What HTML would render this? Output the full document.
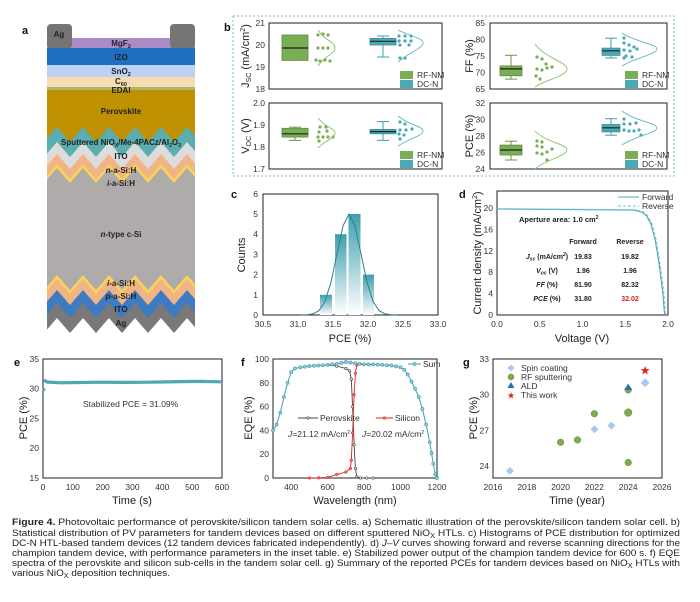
<!DOCTYPE html>
<html><head><meta charset="utf-8"><style>
html,body{margin:0;padding:0;background:#fff;}
svg{display:block;font-family:"Liberation Sans",sans-serif;}
.t{font-size:8.5px;fill:#333;}
.ti{font-size:11px;fill:#222;}
.pl{font-size:11px;font-weight:bold;fill:#111;}
.ly{font-size:8px;font-weight:bold;fill:#222;text-anchor:middle;}
.fr{fill:none;stroke:#333;stroke-width:1.1;}
.cap{font-size:9.6px;fill:#222;}
</style></head><body>
<svg width="700" height="602" viewBox="0 0 700 602" xmlns="http://www.w3.org/2000/svg">
<defs>
<clipPath id="stk"><rect x="47" y="20" width="148" height="320"/></clipPath>
<linearGradient id="bar" x1="0" y1="0" x2="0" y2="1"><stop offset="0" stop-color="#3f9fae"/><stop offset="1" stop-color="#ffffff"/></linearGradient>
<marker id="mt" markerWidth="4" markerHeight="4" refX="2" refY="2" markerUnits="userSpaceOnUse"><circle cx="2" cy="2" r="1.5" fill="#9fd3da" stroke="#3f9fae" stroke-width="0.7"/></marker>
<marker id="mk" markerWidth="4" markerHeight="4" refX="2" refY="2" markerUnits="userSpaceOnUse"><circle cx="2" cy="2" r="1.2" fill="#fff" stroke="#444" stroke-width="0.7"/></marker>
<marker id="mr" markerWidth="4" markerHeight="4" refX="2" refY="2" markerUnits="userSpaceOnUse"><circle cx="2" cy="2" r="1.2" fill="#f88" stroke="#e02020" stroke-width="0.7"/></marker>
</defs>

<!-- Panel a -->
<text x="22" y="34" class="pl">a</text>
<rect x="47" y="24" width="25" height="26" rx="4" fill="#777474"/>
<rect x="170" y="24" width="25" height="26" rx="4" fill="#777474"/>
<rect x="72" y="38" width="98" height="10" fill="#a98bc6"/>
<rect x="47" y="48" width="148" height="17" fill="#1f6fc0"/>
<rect x="47" y="65" width="148" height="12" fill="#bcd2f4"/>
<rect x="47" y="77" width="148" height="10" fill="#f8dcb0"/>
<rect x="47" y="87" width="148" height="3" fill="#a8b870"/>
<rect x="47" y="90" width="148" height="60" fill="#bf9000"/>
<g clip-path="url(#stk)">
<polygon fill="#5aaeb2" points="44,142 57,127 70,142 83,127 96,142 109,127 122,142 135,127 148,142 161,127 174,142 187,127 200,142 200,340 44,340"/>
<polygon fill="#dcdcdc" points="44,157 57,142 70,157 83,142 96,157 109,142 122,157 135,142 148,157 161,142 174,157 187,142 200,157 200,340 44,340"/>
<polygon fill="#f0b486" points="44,169 57,154 70,169 83,154 96,169 109,154 122,169 135,154 148,169 161,154 174,169 187,154 200,169 200,340 44,340"/>
<polygon fill="#f7d35a" points="44,179 57,164 70,179 83,164 96,179 109,164 122,179 135,164 148,179 161,164 174,179 187,164 200,179 200,340 44,340"/>
<polygon fill="#afabaa" points="44,183 57,168 70,183 83,168 96,183 109,168 122,183 135,168 148,183 161,168 174,183 187,168 200,183 200,340 44,340"/>
<polygon fill="#f7d35a" points="44,290 57,275 70,290 83,275 96,290 109,275 122,290 135,275 148,290 161,275 174,290 187,275 200,290 200,340 44,340"/>
<polygon fill="#f0b486" points="44,294 57,279 70,294 83,279 96,294 109,279 122,294 135,279 148,294 161,279 174,294 187,279 200,294 200,340 44,340"/>
<polygon fill="#3d7cc0" points="44,305 57,290 70,305 83,290 96,305 109,290 122,305 135,290 148,305 161,290 174,305 187,290 200,305 200,340 44,340"/>
<polygon fill="#7a7878" points="44,318 57,303 70,318 83,303 96,318 109,303 122,318 135,303 148,318 161,303 174,318 187,303 200,318 200,340 44,340"/>
<polygon fill="#fff" points="44,333 57,318 70,333 83,318 96,333 109,318 122,333 135,318 148,333 161,318 174,333 187,318 200,333 200,340 44,340"/>
</g>
<text x="59" y="37" class="ly">Ag</text>
<text x="121" y="46" class="ly">MgF<tspan font-size="5.5" dy="2">2</tspan></text>
<text x="121" y="60" class="ly">IZO</text>
<text x="121" y="74" class="ly">SnO<tspan font-size="5.5" dy="2">2</tspan></text>
<text x="121" y="84" class="ly">C<tspan font-size="5.5" dy="2">60</tspan></text>
<text x="121" y="93" class="ly">EDAI</text>
<text x="121" y="114" class="ly">Perovskite</text>
<text x="121" y="145" class="ly" font-size="7.6">Sputtered NiO<tspan font-size="5" dy="2">X</tspan><tspan dy="-2">/Me-4PACz/Al</tspan><tspan font-size="5" dy="2">2</tspan><tspan dy="-2">O</tspan><tspan font-size="5" dy="2">3</tspan></text>
<text x="121" y="159" class="ly">ITO</text>
<text x="121" y="173" class="ly"><tspan font-style="italic">n</tspan>-a-Si:H</text>
<text x="121" y="186" class="ly"><tspan font-style="italic">i</tspan>-a-Si:H</text>
<text x="121" y="237" class="ly"><tspan font-style="italic">n</tspan>-type c-Si</text>
<text x="121" y="286" class="ly"><tspan font-style="italic">i</tspan>-a-Si:H</text>
<text x="121" y="299" class="ly"><tspan font-style="italic">p</tspan>-a-Si:H</text>
<text x="121" y="312" class="ly">ITO</text>
<text x="121" y="326" class="ly">Ag</text>

<!-- Panel b -->
<text x="224" y="31" class="pl">b</text>
<rect x="233" y="16" width="441" height="160" fill="none" stroke="#6cc0cc" stroke-width="1" stroke-dasharray="2,2"/>
<!-- Jsc -->
<rect x="269" y="23" width="173" height="66" class="fr"/>
<g class="t" text-anchor="end"><text x="265" y="26">21</text><text x="265" y="48">20</text><text x="265" y="70">19</text><text x="265" y="92">18</text></g>
<text transform="translate(249,56) rotate(-90)" class="ti" text-anchor="middle">J<tspan font-size="7" dy="2">SC</tspan><tspan dy="-2"> (mA/cm</tspan><tspan font-size="7" dy="-4">2</tspan><tspan dy="4">)</tspan></text>
<line x1="295" y1="35" x2="295" y2="61" stroke="#6a9a40"/>
<rect x="282" y="35" width="26" height="25.4" fill="#79ae55" stroke="#5e8c3c" stroke-width="0.8"/>
<line x1="282" y1="48" x2="308" y2="48" stroke="#222" stroke-width="1.2"/>
<g fill="#79ae55"><circle cx="318" cy="35" r="1.6"/><circle cx="323" cy="34" r="1.6"/><circle cx="328" cy="35" r="1.6"/><circle cx="318" cy="48" r="1.6"/><circle cx="323" cy="48" r="1.6"/><circle cx="328" cy="48" r="1.6"/><circle cx="316" cy="60" r="1.6"/><circle cx="320" cy="61" r="1.6"/><circle cx="325" cy="60" r="1.6"/><circle cx="330" cy="61" r="1.6"/></g>
<path d="M318,30 C324,40 335,42 335,48 C335,54 324,56 318,66" fill="none" stroke="#8cc063" stroke-width="0.9"/>
<line x1="383" y1="36" x2="383" y2="57" stroke="#3f9fae"/><line x1="377" y1="57" x2="389" y2="57" stroke="#3f9fae"/><line x1="377" y1="36" x2="389" y2="36" stroke="#3f9fae"/>
<rect x="370" y="38.4" width="26" height="6.6" fill="#4aa9b5" stroke="#3a8f9a" stroke-width="0.8"/>
<line x1="370" y1="41.3" x2="396" y2="41.3" stroke="#222" stroke-width="1.2"/>
<g fill="#4aa9b5"><circle cx="399" cy="36" r="1.6"/><circle cx="405" cy="36" r="1.6"/><circle cx="411" cy="36" r="1.6"/><circle cx="399" cy="41" r="1.6"/><circle cx="405" cy="41" r="1.6"/><circle cx="411" cy="41" r="1.6"/><circle cx="400" cy="45" r="1.6"/><circle cx="409" cy="45" r="1.6"/><circle cx="400" cy="58" r="1.6"/><circle cx="405" cy="58" r="1.6"/></g>
<path d="M398,30 C410,36 423,38 423,43 C423,48 410,52 398,62" fill="none" stroke="#5bb8c4" stroke-width="0.9"/>
<rect x="400" y="71" width="13" height="8" fill="#79ae55"/><rect x="400" y="80" width="13" height="8" fill="#4aa9b5"/>
<text x="417" y="78" class="t" font-size="8">RF-NM</text><text x="417" y="87" class="t" font-size="8">DC-N</text>
<!-- FF -->
<rect x="490" y="23" width="177" height="66" class="fr"/>
<g class="t" text-anchor="end"><text x="485" y="26">85</text><text x="485" y="42.5">80</text><text x="485" y="59">75</text><text x="485" y="75.5">70</text><text x="485" y="92">65</text></g>
<text transform="translate(473,56) rotate(-90)" class="ti" text-anchor="middle">FF (%)</text>
<line x1="511" y1="55.3" x2="511" y2="79.1" stroke="#6a9a40"/><line x1="505" y1="55.3" x2="517" y2="55.3" stroke="#6a9a40"/><line x1="505" y1="79.1" x2="517" y2="79.1" stroke="#6a9a40"/>
<rect x="500" y="65.9" width="22" height="9.9" fill="#79ae55" stroke="#5e8c3c" stroke-width="0.8"/>
<line x1="500" y1="68.9" x2="522" y2="68.9" stroke="#222" stroke-width="1.2"/>
<g fill="#79ae55"><circle cx="537" cy="57" r="1.6"/><circle cx="542" cy="59" r="1.6"/><circle cx="537" cy="69" r="1.6"/><circle cx="542" cy="70" r="1.6"/><circle cx="547" cy="68" r="1.6"/><circle cx="552" cy="67" r="1.6"/><circle cx="536" cy="76" r="1.6"/><circle cx="540" cy="79" r="1.6"/><circle cx="546" cy="64" r="1.6"/></g>
<path d="M535,44 C545,58 567,62 567,69 C567,76 545,80 535,87" fill="none" stroke="#8cc063" stroke-width="0.9"/>
<line x1="611" y1="38.2" x2="611" y2="58" stroke="#3f9fae"/><line x1="605" y1="38.2" x2="617" y2="38.2" stroke="#3f9fae"/><line x1="605" y1="58" x2="617" y2="58" stroke="#3f9fae"/>
<rect x="602" y="48.1" width="18" height="7.3" fill="#4aa9b5" stroke="#3a8f9a" stroke-width="0.8"/>
<line x1="602" y1="50.8" x2="620" y2="50.8" stroke="#222" stroke-width="1.2"/>
<g fill="#4aa9b5"><circle cx="624" cy="38" r="1.6"/><circle cx="624" cy="43" r="1.6"/><circle cx="629" cy="45" r="1.6"/><circle cx="634" cy="47" r="1.6"/><circle cx="624" cy="50" r="1.6"/><circle cx="630" cy="51" r="1.6"/><circle cx="637" cy="49" r="1.6"/><circle cx="626" cy="56" r="1.6"/><circle cx="632" cy="57" r="1.6"/><circle cx="624" cy="58" r="1.6"/></g>
<path d="M622,33 C635,42 657,44 657,49 C657,54 635,58 622,66" fill="none" stroke="#5bb8c4" stroke-width="0.9"/>
<rect x="625" y="71" width="13" height="8" fill="#79ae55"/><rect x="625" y="80" width="13" height="8" fill="#4aa9b5"/>
<text x="642" y="78" class="t" font-size="8">RF-NM</text><text x="642" y="87" class="t" font-size="8">DC-N</text>
<!-- Voc -->
<rect x="269" y="103" width="173" height="66" class="fr"/>
<g class="t" text-anchor="end"><text x="265" y="106">2.0</text><text x="265" y="128">1.9</text><text x="265" y="150">1.8</text><text x="265" y="172">1.7</text></g>
<text transform="translate(249,136) rotate(-90)" class="ti" text-anchor="middle">V<tspan font-size="7" dy="2">OC</tspan><tspan dy="-2"> (V)</tspan></text>
<line x1="295" y1="127.2" x2="295" y2="140.4" stroke="#6a9a40"/><line x1="289" y1="140.4" x2="301" y2="140.4" stroke="#6a9a40"/><line x1="289" y1="127.2" x2="301" y2="127.2" stroke="#6a9a40"/>
<rect x="282" y="128.3" width="26" height="8.8" fill="#79ae55" stroke="#5e8c3c" stroke-width="0.8"/>
<line x1="282" y1="133.8" x2="308" y2="133.8" stroke="#222" stroke-width="1.2"/>
<g fill="#79ae55"><circle cx="320" cy="127" r="1.6"/><circle cx="326" cy="127" r="1.6"/><circle cx="319" cy="132" r="1.6"/><circle cx="327" cy="131" r="1.6"/><circle cx="318" cy="137" r="1.6"/><circle cx="323" cy="137" r="1.6"/><circle cx="328" cy="137" r="1.6"/><circle cx="333" cy="137" r="1.6"/><circle cx="319" cy="141" r="1.6"/></g>
<path d="M318,118 C326,128 335,128 335,133 C335,138 326,140 318,148" fill="none" stroke="#8cc063" stroke-width="0.9"/>
<line x1="383" y1="121.6" x2="383" y2="140.4" stroke="#3f9fae"/><line x1="377" y1="121.6" x2="389" y2="121.6" stroke="#3f9fae"/><line x1="377" y1="140.4" x2="389" y2="140.4" stroke="#3f9fae"/>
<rect x="370" y="129.4" width="26" height="4.4" fill="#4aa9b5" stroke="#3a8f9a" stroke-width="0.8"/>
<line x1="370" y1="131.6" x2="396" y2="131.6" stroke="#222" stroke-width="1.2"/>
<g fill="#4aa9b5"><circle cx="400" cy="122" r="1.6"/><circle cx="405" cy="124" r="1.6"/><circle cx="400" cy="130" r="1.6"/><circle cx="406" cy="130" r="1.6"/><circle cx="412" cy="129" r="1.6"/><circle cx="399" cy="134" r="1.6"/><circle cx="404" cy="135" r="1.6"/><circle cx="400" cy="139" r="1.6"/></g>
<path d="M398,116 C410,126 423,126 423,131 C423,136 410,138 398,146" fill="none" stroke="#5bb8c4" stroke-width="0.9"/>
<rect x="400" y="151" width="13" height="8" fill="#79ae55"/><rect x="400" y="160" width="13" height="8" fill="#4aa9b5"/>
<text x="417" y="158" class="t" font-size="8">RF-NM</text><text x="417" y="167" class="t" font-size="8">DC-N</text>
<!-- PCE b -->
<rect x="490" y="103" width="177" height="66" class="fr"/>
<g class="t" text-anchor="end"><text x="485" y="106">32</text><text x="485" y="122.5">30</text><text x="485" y="139">28</text><text x="485" y="155.5">26</text><text x="485" y="172">24</text></g>
<text transform="translate(473,136) rotate(-90)" class="ti" text-anchor="middle">PCE (%)</text>
<line x1="511" y1="141.2" x2="511" y2="160" stroke="#6a9a40"/><line x1="505" y1="141.2" x2="517" y2="141.2" stroke="#6a9a40"/><line x1="505" y1="160" x2="517" y2="160" stroke="#6a9a40"/>
<rect x="500" y="145.1" width="22" height="9.9" fill="#79ae55" stroke="#5e8c3c" stroke-width="0.8"/>
<line x1="500" y1="150" x2="522" y2="150" stroke="#222" stroke-width="1.2"/>
<g fill="#79ae55"><circle cx="537" cy="141" r="1.6"/><circle cx="542" cy="142" r="1.6"/><circle cx="537" cy="146" r="1.6"/><circle cx="542" cy="147" r="1.6"/><circle cx="537" cy="153" r="1.6"/><circle cx="542" cy="154" r="1.6"/><circle cx="547" cy="152" r="1.6"/><circle cx="552" cy="149" r="1.6"/><circle cx="547" cy="160" r="1.6"/></g>
<path d="M535,131 C545,142 567,144 567,150 C567,156 545,160 535,169" fill="none" stroke="#8cc063" stroke-width="0.9"/>
<line x1="611" y1="118.7" x2="611" y2="135.2" stroke="#3f9fae"/><line x1="605" y1="118.7" x2="617" y2="118.7" stroke="#3f9fae"/><line x1="605" y1="135.2" x2="617" y2="135.2" stroke="#3f9fae"/>
<rect x="602" y="124.5" width="18" height="7.4" fill="#4aa9b5" stroke="#3a8f9a" stroke-width="0.8"/>
<line x1="602" y1="127.8" x2="620" y2="127.8" stroke="#222" stroke-width="1.2"/>
<g fill="#4aa9b5"><circle cx="624" cy="119" r="1.6"/><circle cx="624" cy="124" r="1.6"/><circle cx="630" cy="124" r="1.6"/><circle cx="636" cy="123" r="1.6"/><circle cx="624" cy="130" r="1.6"/><circle cx="629" cy="131" r="1.6"/><circle cx="634" cy="131" r="1.6"/><circle cx="639" cy="130" r="1.6"/><circle cx="641" cy="135" r="1.6"/></g>
<path d="M622,111 C635,121 657,123 657,128 C657,133 635,136 622,145" fill="none" stroke="#5bb8c4" stroke-width="0.9"/>
<rect x="625" y="151" width="13" height="8" fill="#79ae55"/><rect x="625" y="160" width="13" height="8" fill="#4aa9b5"/>
<text x="642" y="158" class="t" font-size="8">RF-NM</text><text x="642" y="167" class="t" font-size="8">DC-N</text>

<!-- Panel c -->
<text x="231" y="198" class="pl">c</text>
<rect x="263" y="194" width="175" height="121" class="fr"/>
<g class="t" text-anchor="end"><text x="258" y="318">0</text><text x="258" y="297.8">1</text><text x="258" y="277.6">2</text><text x="258" y="257.4">3</text><text x="258" y="237.2">4</text><text x="258" y="217">5</text><text x="258" y="196.8">6</text></g>
<g class="t" text-anchor="middle"><text x="263" y="327">30.5</text><text x="298" y="327">31.0</text><text x="333" y="327">31.5</text><text x="368" y="327">32.0</text><text x="403" y="327">32.5</text><text x="438" y="327">33.0</text></g>
<text x="350" y="342" class="ti" text-anchor="middle">PCE (%)</text>
<text transform="translate(245,255) rotate(-90)" class="ti" text-anchor="middle">Counts</text>
<rect x="320" y="294.8" width="12" height="20.2" fill="url(#bar)"/>
<rect x="335" y="234.2" width="11.5" height="80.8" fill="url(#bar)"/>
<rect x="348.5" y="214" width="12" height="101" fill="url(#bar)"/>
<rect x="363" y="274.6" width="11" height="40.4" fill="url(#bar)"/>
<polyline fill="none" stroke="#2f7f88" stroke-width="1" points="301,315 307,314.8 313,313.9 319,310.6 325,301.3 331,282.2 337,253.7 343,225.9 349,214 355,225.9 361,253.7 367,282.2 373,301.3 379,310.6 385,313.9 391,314.8 397,315"/>

<!-- Panel d -->
<text x="459" y="198" class="pl">d</text>
<rect x="497" y="191" width="171" height="124" class="fr"/>
<g class="t" text-anchor="end"><text x="493" y="318">0</text><text x="493" y="296.6">4</text><text x="493" y="275.2">8</text><text x="493" y="253.8">12</text><text x="493" y="232.4">16</text><text x="493" y="211">20</text></g>
<g class="t" text-anchor="middle"><text x="497" y="327">0.0</text><text x="539.75" y="327">0.5</text><text x="582.5" y="327">1.0</text><text x="625.25" y="327">1.5</text><text x="668" y="327">2.0</text></g>
<text x="582" y="342" class="ti" text-anchor="middle">Voltage (V)</text>
<text transform="translate(481,253) rotate(-90)" class="ti" text-anchor="middle">Current density (mA/cm<tspan font-size="7" dy="-4">2</tspan><tspan dy="4">)</tspan></text>
<polyline fill="none" stroke="#4aa9b5" stroke-width="1.1" points="497,209 634,210.1 642.4,212.3 646.6,216 650.9,224 655.2,240 659.5,266.8 662.9,293.6 664.6,315"/>
<polyline fill="none" stroke="#7cc6d0" stroke-width="1.1" stroke-dasharray="3,2" points="497,208.6 635,209.7 643.4,211.9 647.6,215.6 651.9,223.6 656.2,239.6 660.5,266.4 663.9,293.2 665.6,315"/>
<line x1="618" y1="197" x2="639" y2="197" stroke="#4aa9b5" stroke-width="1.1"/>
<line x1="618" y1="206" x2="639" y2="206" stroke="#7cc6d0" stroke-width="1.1" stroke-dasharray="3,2"/>
<text x="642" y="200" class="t" font-size="7.5">Forward</text><text x="642" y="209" class="t" font-size="7.5">Reverse</text>
<g font-size="7" font-weight="bold" fill="#222">
<text x="519" y="222" font-size="7.5">Aperture area: 1.0 cm<tspan font-size="5" dy="-3">2</tspan></text>
<text x="583" y="244" text-anchor="middle">Forward</text><text x="630" y="244" text-anchor="middle">Reverse</text>
<text x="547" y="259" text-anchor="middle" font-style="italic">J<tspan font-size="5" dy="1.5">sc</tspan><tspan dy="-1.5" font-style="normal"> (mA/cm</tspan><tspan font-size="5" dy="-3">2</tspan><tspan dy="3" font-style="normal">)</tspan></text>
<text x="547" y="273" text-anchor="middle" font-style="italic">V<tspan font-size="5" dy="1.5">oc</tspan><tspan dy="-1.5" font-style="normal"> (V)</tspan></text>
<text x="547" y="287" text-anchor="middle"><tspan font-style="italic">FF</tspan> (%)</text>
<text x="547" y="301" text-anchor="middle"><tspan font-style="italic">PCE</tspan> (%)</text>
<text x="583" y="259" text-anchor="middle">19.83</text><text x="630" y="259" text-anchor="middle">19.82</text>
<text x="583" y="273" text-anchor="middle">1.96</text><text x="630" y="273" text-anchor="middle">1.96</text>
<text x="583" y="287" text-anchor="middle">81.90</text><text x="630" y="287" text-anchor="middle">82.32</text>
<text x="583" y="301" text-anchor="middle">31.80</text><text x="630" y="301" text-anchor="middle" fill="#e02020">32.02</text>
</g>

<!-- Panel e -->
<text x="14" y="366" class="pl">e</text>
<rect x="43" y="359" width="179" height="119" class="fr"/>
<g class="t" text-anchor="end"><text x="39" y="362">35</text><text x="39" y="391.7">30</text><text x="39" y="421.5">25</text><text x="39" y="451.2">20</text><text x="39" y="481">15</text></g>
<g class="t" text-anchor="middle"><text x="43" y="490">0</text><text x="72.8" y="490">100</text><text x="102.7" y="490">200</text><text x="132.5" y="490">300</text><text x="162.3" y="490">400</text><text x="192.2" y="490">500</text><text x="222" y="490">600</text></g>
<text x="132" y="504" class="ti" text-anchor="middle">Time (s)</text>
<text transform="translate(27,418) rotate(-90)" class="ti" text-anchor="middle">PCE (%)</text>
<circle cx="44" cy="389.5" r="1.5" fill="#4aa9b5"/>
<polyline fill="none" stroke="#4aa9b5" stroke-width="3.2" points="44,380 47,382 60,382.8 80,382.5 100,382.2 120,382.4 140,382.3 160,382 180,381.6 200,381.4 221,381.8"/>
<text x="83" y="407" class="t" font-size="7.5">Stabilized PCE = 31.09%</text>

<!-- Panel f -->
<text x="241" y="366" class="pl">f</text>
<rect x="273" y="359" width="164" height="119" class="fr"/>
<g class="t" text-anchor="end"><text x="269" y="481">0</text><text x="269" y="457.2">20</text><text x="269" y="433.4">40</text><text x="269" y="409.6">60</text><text x="269" y="385.8">80</text><text x="269" y="362">100</text></g>
<g class="t" text-anchor="middle"><text x="291.2" y="490">400</text><text x="327.7" y="490">600</text><text x="364.1" y="490">800</text><text x="400.5" y="490">1000</text><text x="437" y="490">1200</text></g>
<text x="355" y="504" class="ti" text-anchor="middle">Wavelength (nm)</text>
<text transform="translate(252,418) rotate(-90)" class="ti" text-anchor="middle">EQE (%)</text>
<polyline fill="none" stroke="#444" stroke-width="0.9" marker-start="url(#mk)" marker-mid="url(#mk)" marker-end="url(#mk)" points="327.7,364.9 336.8,366.1 345.9,368.5 349.5,370.9 351.3,379.2 352.6,406.6 354.1,444.7 355.4,468.5 356.8,476.8 360.5,478 366.8,478 373.2,478"/>
<polyline fill="none" stroke="#e02020" stroke-width="0.9" marker-start="url(#mr)" marker-mid="url(#mr)" marker-end="url(#mr)" points="309.4,478 318.6,477.8 327.7,477.4 336.8,474.4 345.9,472 350.4,468.5 351.3,460.2 352.6,432.8 354.1,394.7 355.4,373.3 356.8,365 364.1,364.4 373.2,364.6"/>
<polyline fill="none" stroke="#3f9fae" stroke-width="1" marker-start="url(#mt)" marker-mid="url(#mt)" marker-end="url(#mt)" points="273,430.4 276.6,424.5 280.3,412.6 283.9,397.1 287.6,382.8 291.2,372.1 294.9,368.5 300.3,367.3 304.9,366.7 309.4,366.1 314,365.8 318.6,365.5 323.2,365.2 327.7,364.9 332.3,364.4 336.8,363.8 341.4,362.9 345.9,362 350.5,362.6 355,363.2 359.6,363.8 364.1,364.4 368.7,364.4 373.2,364.4 377.8,364.6 382.3,364.9 386.9,365.2 391.4,365.5 396,366.4 400.5,367.3 404.2,369.7 407.8,374.5 411.5,381.6 415.1,388.8 418.8,397.1 422.4,409 426.1,424.5 429.7,442.3 431.5,453 433.3,463.7 435.2,474.4 437,478"/>
<line x1="408" y1="364" x2="421" y2="364" stroke="#3f9fae" marker-mid="url(#mt)"/><circle cx="414.5" cy="364" r="1.5" fill="#9fd3da" stroke="#3f9fae" stroke-width="0.7"/>
<text x="423" y="367" class="t" font-size="7.5">Sum</text>
<line x1="298" y1="418" x2="318" y2="418" stroke="#444"/><circle cx="308" cy="418" r="1.2" fill="#fff" stroke="#444" stroke-width="0.7"/>
<text x="320" y="421" class="t" font-size="7.5">Perovskite</text>
<line x1="376" y1="418" x2="393" y2="418" stroke="#e02020"/><circle cx="384.5" cy="418" r="1.2" fill="#f88" stroke="#e02020" stroke-width="0.7"/>
<text x="395" y="421" class="t" font-size="7.5">Silicon</text>
<text x="288" y="437" class="t" font-size="7.2"><tspan font-style="italic">J</tspan>=21.12 mA/cm<tspan font-size="5" dy="-3">2</tspan></text>
<text x="362" y="437" class="t" font-size="7.2"><tspan font-style="italic">J</tspan>=20.02 mA/cm<tspan font-size="5" dy="-3">2</tspan></text>

<!-- Panel g -->
<text x="463" y="366" class="pl">g</text>
<rect x="493" y="359" width="169" height="119" class="fr"/>
<g class="t" text-anchor="end"><text x="489" y="362">33</text><text x="489" y="397.7">30</text><text x="489" y="433.4">27</text><text x="489" y="469">24</text></g>
<g class="t" text-anchor="middle"><text x="493" y="490">2016</text><text x="526.8" y="490">2018</text><text x="560.6" y="490">2020</text><text x="594.4" y="490">2022</text><text x="628.2" y="490">2024</text><text x="662" y="490">2026</text></g>
<text x="577" y="504" class="ti" text-anchor="middle">Time (year)</text>
<text transform="translate(477,418) rotate(-90)" class="ti" text-anchor="middle">PCE (%)</text>
<g fill="#a8c8ec"><path d="M509.9,466.9 l4,4 l-4,4 l-4,-4z"/><path d="M594.4,425.2 l4,4 l-4,4 l-4,-4z"/><path d="M611.3,421.6 l4,4 l-4,4 l-4,-4z"/><path d="M645.1,378.3 l4.5,4.5 l-4.5,4.5 l-4.5,-4.5z"/><path d="M511,364.5 l3.5,3.5 l-3.5,3.5 l-3.5,-3.5z"/></g>
<g fill="#7cac4c" stroke="#5e8c3c" stroke-width="0.5"><circle cx="560.6" cy="442.3" r="3.3"/><circle cx="577.5" cy="439.9" r="3.3"/><circle cx="594.4" cy="413.7" r="3.3"/><circle cx="628.2" cy="412.6" r="3.8"/><circle cx="628.2" cy="462.5" r="3.3"/><circle cx="628.2" cy="389.9" r="3.3"/><circle cx="511" cy="377" r="3"/></g>
<path d="M628.2,383.5 l4,6.5 h-8z" fill="#2a70b8"/>
<path d="M511,382 l3.5,6 h-7z" fill="#2a70b8"/>
<text x="645.1" y="374.5" font-size="12" fill="#e02020" text-anchor="middle">★</text>
<text x="511" y="398.5" font-size="9" fill="#e02020" text-anchor="middle">★</text>
<g class="t" font-size="7.5"><text x="521" y="371">Spin coating</text><text x="521" y="380">RF sputtering</text><text x="521" y="389">ALD</text><text x="521" y="398">This work</text></g>

<!-- Caption -->
<g class="cap">
<text x="12" y="525" textLength="668" lengthAdjust="spacingAndGlyphs"><tspan font-weight="bold">Figure 4.</tspan>  Photovoltaic performance of perovskite/silicon tandem solar cells. a) Schematic illustration of the perovskite/silicon tandem solar cell. b)</text>
<text x="12" y="536" textLength="668" lengthAdjust="spacingAndGlyphs">Statistical distribution of PV parameters for tandem devices based on different sputtered NiO<tspan font-size="7" dy="2">X</tspan><tspan dy="-2"> HTLs. c) Histograms of PCE distribution for optimized</tspan></text>
<text x="12" y="546" textLength="668" lengthAdjust="spacingAndGlyphs">DC-N HTL-based tandem devices (12 tandem devices fabricated independently). d) <tspan font-style="italic">J–V</tspan> curves showing forward and reverse scanning directions for the</text>
<text x="12" y="556" textLength="668" lengthAdjust="spacingAndGlyphs">champion tandem device, with performance parameters in the inset table. e) Stabilized power output of the champion tandem device for 600 s. f) EQE</text>
<text x="12" y="566" textLength="668" lengthAdjust="spacingAndGlyphs">spectra of the perovskite and silicon sub-cells in the tandem solar cell. g) Summary of the reported PCEs for tandem devices based on NiO<tspan font-size="7" dy="2">X</tspan><tspan dy="-2"> HTLs with</tspan></text>
<text x="12" y="576" textLength="158" lengthAdjust="spacingAndGlyphs">various NiO<tspan font-size="7" dy="2">X</tspan><tspan dy="-2"> deposition techniques.</tspan></text>
</g>
</svg>
</body></html>
